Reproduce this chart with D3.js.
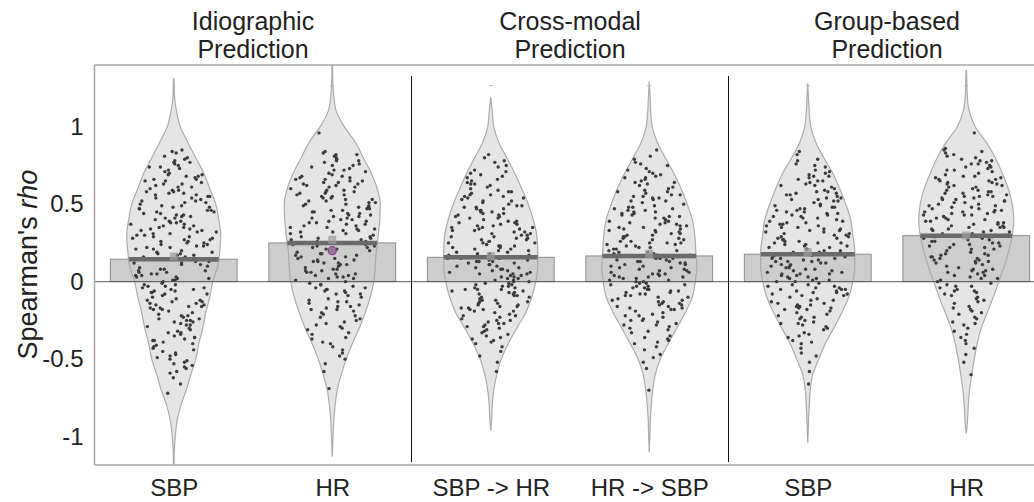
<!DOCTYPE html>
<html>
<head>
<meta charset="utf-8">
<script src="https://cdn.jsdelivr.net/npm/d3@7"></script>
<style>
  html, body { margin: 0; padding: 0; background: #fff; }
  svg { display: block; font-family: "Liberation Sans", Arial, sans-serif; }
</style>
</head>
<body>
<script>
// ---- categories and panels ----
const categories = ["SBP", "HR", "SBP -> HR", "HR -> SBP", "SBP", "HR"];
const panelTitles = [["Idiographic", "Prediction"], ["Cross-modal", "Prediction"], ["Group-based", "Prediction"]];
const yTicks = [-1, -0.5, 0, 0.5, 1];

// ---- summary values per category ----
const meanRho   = [0.145, 0.25, 0.157, 0.166, 0.177, 0.297];
const medianRho = [0.163, 0.27, 0.165, 0.18, 0.19, 0.298];
const highlightRho = { index: 1, value: 0.20 };
const capRho = [null, 1.265, 1.265, 1.265, 1.265, 1.265];

// ---- violin outlines: [rho, relative density] ----
const violinIdioSBP = [[1.314,0],[1.3,0.3],[1.2,0.7],[1.1,2.7],[1.0,6.5],[0.9,14],[0.8,22],[0.7,30],[0.6,36],[0.5,42],[0.4,45],[0.3,47],[0.2,46],[0.1,44],[0,39],[-0.1,36],[-0.2,32],[-0.3,29],[-0.4,25],[-0.5,22],[-0.6,17],[-0.7,12.5],[-0.8,7],[-0.9,3.3],[-1.0,1.5],[-1.1,0.5],[-1.183,0.3]];
const violinIdioHR  = [[1.398,0.3],[1.3,0.5],[1.2,1.5],[1.1,4],[1.0,12],[0.9,23],[0.8,31],[0.7,39],[0.6,45],[0.5,48],[0.4,47.5],[0.3,46],[0.2,44],[0.1,43],[0,41.5],[-0.1,38],[-0.2,33],[-0.3,27],[-0.4,20],[-0.5,14],[-0.6,9],[-0.7,5],[-0.8,2.8],[-0.9,1.5],[-1.0,0.8],[-1.13,0]];
const violinCrossSBPHR = [[1.19,0],[1.1,1.5],[1.0,3],[0.9,8],[0.8,16],[0.7,24],[0.6,31],[0.5,37.5],[0.4,42.5],[0.3,46],[0.2,47],[0.1,47],[0,45],[-0.1,41],[-0.2,35],[-0.3,26],[-0.4,17.5],[-0.5,10.5],[-0.6,6],[-0.7,3],[-0.8,1.5],[-0.9,0.8],[-0.96,0]];
const violinCrossHRSBP = [[1.29,0],[1.2,0.8],[1.1,1.5],[1.0,3],[0.9,8],[0.8,16],[0.7,24.5],[0.6,32],[0.5,38],[0.4,43],[0.3,45.5],[0.2,46.5],[0.1,47.5],[0,46],[-0.1,43],[-0.2,36],[-0.3,27.5],[-0.4,19],[-0.5,11],[-0.6,6],[-0.7,3.5],[-0.8,2],[-0.9,1],[-1.0,0.6],[-1.1,0]];
const violinGroupSBP = [[1.28,0],[1.2,0.6],[1.1,1.5],[1.0,3],[0.9,8],[0.8,16],[0.7,25],[0.6,32],[0.5,38],[0.4,43],[0.3,45],[0.2,47],[0.1,47],[0,45],[-0.1,41],[-0.2,34],[-0.3,26],[-0.4,17.5],[-0.5,11],[-0.6,5],[-0.7,2.5],[-0.8,1.5],[-0.9,0.8],[-1.04,0]];
const violinGroupHR = [[1.36,0.3],[1.2,1],[1.1,3],[1.0,9],[0.9,20],[0.8,29],[0.7,36],[0.6,42],[0.5,46],[0.4,47.5],[0.3,46],[0.2,42.5],[0.1,38],[0,32.5],[-0.1,27],[-0.2,21],[-0.3,15],[-0.4,11],[-0.5,8],[-0.6,5.5],[-0.7,3.3],[-0.8,2],[-0.9,1.2],[-0.98,0]];

// ---- individual Spearman's rho values ----
const rhoIdioSBP = [.85,.83,.84,.81,.80,
.79,.77,.78,.76,.74,.75,.73,.72,.77,.71,.70,.74,
.69,.68,.66,.67,.65,.63,.64,.62,.61,.60,.68,.66,.63,.61,.65,.69,
.59,.58,.57,.55,.56,.54,.52,.53,.51,.50,.58,.56,.54,.52,.57,.55,.51,.59,
.49,.48,.47,.46,.45,.44,.43,.42,.41,.40,.48,.46,.44,.42,.47,.45,.43,.41,.49,
.39,.38,.37,.36,.35,.34,.33,.32,.31,.30,.38,.36,.34,.32,.37,.35,.33,.31,.39,.30,
.29,.28,.27,.26,.25,.24,.23,.22,.21,.20,.28,.26,.24,.22,.27,.25,.23,.21,.29,
.19,.18,.17,.16,.15,.14,.13,.12,.11,.10,.18,.16,.14,.12,.17,.15,.13,.11,.19,.15,
.09,.08,.07,.06,.05,.04,.03,.02,.01,0,.08,.06,.04,.02,.07,.05,.03,.01,
-.01,-.02,-.03,-.04,-.05,-.06,-.07,-.08,-.09,-.10,-.02,-.04,-.06,-.08,-.03,-.05,-.07,
-.11,-.12,-.13,-.14,-.15,-.16,-.17,-.18,-.19,-.20,-.12,-.14,-.16,-.18,-.13,-.15,-.17,
-.21,-.22,-.23,-.24,-.25,-.26,-.27,-.28,-.29,-.30,-.22,-.24,-.26,-.28,-.25,
-.31,-.32,-.33,-.34,-.35,-.36,-.37,-.38,-.39,-.40,-.33,-.36,-.38,
-.41,-.42,-.43,-.45,-.46,-.47,-.48,-.50,-.44,-.49,
-.51,-.52,-.54,-.55,-.56,-.58,-.59,-.53,
-.62,-.66,-.72];

const rhoIdioHR = [.96,
.84,.83,.82,.81,.80,.82,
.79,.78,.77,.76,.75,.74,.73,.72,.71,.70,.78,.75,.72,
.69,.68,.67,.66,.65,.64,.63,.62,.61,.60,.68,.66,.64,.62,.67,.65,.63,.61,
.59,.58,.57,.56,.55,.54,.53,.52,.51,.50,.58,.56,.54,.52,.57,.55,.53,.51,.59,.50,
.49,.48,.47,.46,.45,.44,.43,.42,.41,.40,.48,.46,.44,.42,.47,.45,.43,.41,.49,.40,
.39,.38,.37,.36,.35,.34,.33,.32,.31,.30,.38,.36,.34,.32,.37,.35,.33,.31,.39,
.29,.28,.27,.26,.25,.24,.23,.22,.21,.20,.28,.26,.24,.22,.27,.25,.23,.21,.29,
.19,.18,.17,.16,.15,.14,.13,.12,.11,.10,.18,.16,.14,.12,.17,.15,.13,.11,
.09,.08,.07,.06,.05,.04,.03,.02,.01,0,.08,.06,.04,.02,.07,.05,.03,
-.01,-.02,-.03,-.04,-.05,-.06,-.07,-.08,-.09,-.10,-.02,-.04,-.06,-.08,-.05,
-.11,-.12,-.13,-.14,-.15,-.16,-.17,-.18,-.19,-.20,-.13,-.16,-.18,
-.21,-.22,-.24,-.25,-.26,-.27,-.28,-.29,-.23,-.30,
-.31,-.33,-.34,-.36,-.37,-.39,-.40,
-.42,-.44,-.46,-.48,-.50,
-.53,-.58,-.69];

const rhoCrossSBPHR = [.82,.80,
.78,.77,.75,.74,.72,.71,.70,
.69,.68,.66,.65,.64,.63,.62,.61,.60,.67,.63,
.59,.58,.57,.56,.55,.54,.53,.52,.51,.50,.58,.56,.54,.52,.55,
.49,.48,.47,.46,.45,.44,.43,.42,.41,.40,.48,.46,.44,.42,.47,.45,.43,.41,.49,
.39,.38,.37,.36,.35,.34,.33,.32,.31,.30,.38,.36,.34,.32,.37,.35,.33,.31,.39,.30,.35,
.29,.28,.27,.26,.25,.24,.23,.22,.21,.20,.28,.26,.24,.22,.27,.25,.23,.21,.29,.20,.25,.23,
.19,.18,.17,.16,.15,.14,.13,.12,.11,.10,.18,.16,.14,.12,.17,.15,.13,.11,.19,.10,.15,.13,
.09,.08,.07,.06,.05,.04,.03,.02,.01,0,.08,.06,.04,.02,.07,.05,.03,.01,.09,0,.05,
-.01,-.02,-.03,-.04,-.05,-.06,-.07,-.08,-.09,-.10,-.02,-.04,-.06,-.08,-.03,-.05,-.07,-.09,-.01,-.10,-.05,
-.11,-.12,-.13,-.14,-.15,-.16,-.17,-.18,-.19,-.20,-.12,-.14,-.16,-.18,-.13,-.15,-.17,-.19,
-.21,-.22,-.23,-.24,-.25,-.26,-.27,-.28,-.29,-.30,-.22,-.25,-.27,-.29,
-.31,-.32,-.33,-.34,-.35,-.36,-.37,-.38,-.39,-.40,
-.42,-.45,-.48,-.52,-.58];

const rhoCrossHRSBP = [.85,.81,
.79,.77,.76,.75,.73,.72,.71,.70,
.69,.68,.67,.66,.65,.64,.63,.62,.61,.60,.67,.64,
.59,.58,.57,.56,.55,.54,.53,.52,.51,.50,.58,.56,.54,.52,.55,
.49,.48,.47,.46,.45,.44,.43,.42,.41,.40,.48,.46,.44,.42,.47,.45,.43,.41,
.39,.38,.37,.36,.35,.34,.33,.32,.31,.30,.38,.36,.34,.32,.37,.35,.33,.31,.39,.30,
.29,.28,.27,.26,.25,.24,.23,.22,.21,.20,.28,.26,.24,.22,.27,.25,.23,.21,.29,.20,.25,
.19,.18,.17,.16,.15,.14,.13,.12,.11,.10,.18,.16,.14,.12,.17,.15,.13,.11,.19,.10,.15,.13,
.09,.08,.07,.06,.05,.04,.03,.02,.01,0,.08,.06,.04,.02,.07,.05,.03,.01,.09,0,.05,.03,
-.01,-.02,-.03,-.04,-.05,-.06,-.07,-.08,-.09,-.10,-.02,-.04,-.06,-.08,-.03,-.05,-.07,-.09,-.01,-.10,
-.11,-.12,-.13,-.14,-.15,-.16,-.17,-.18,-.19,-.20,-.12,-.14,-.16,-.18,-.13,-.15,-.17,
-.21,-.22,-.23,-.24,-.25,-.26,-.27,-.28,-.29,-.30,-.22,-.25,-.28,
-.31,-.32,-.33,-.35,-.36,-.37,-.38,-.39,-.40,
-.42,-.44,-.47,-.49,-.52,
-.56,-.70];

const rhoGroupSBP = [.84,.82,
.79,.78,.76,.75,.74,.72,.71,.70,
.69,.68,.67,.66,.65,.64,.63,.62,.61,.60,.68,.65,.62,
.59,.58,.57,.56,.55,.54,.53,.52,.51,.50,.58,.56,.54,.52,.57,.53,
.49,.48,.47,.46,.45,.44,.43,.42,.41,.40,.48,.46,.44,.42,.47,.45,.43,.41,.49,
.39,.38,.37,.36,.35,.34,.33,.32,.31,.30,.38,.36,.34,.32,.37,.35,.33,.31,.39,.30,
.29,.28,.27,.26,.25,.24,.23,.22,.21,.20,.28,.26,.24,.22,.27,.25,.23,.21,.29,.20,.25,
.19,.18,.17,.16,.15,.14,.13,.12,.11,.10,.18,.16,.14,.12,.17,.15,.13,.11,.19,.10,.15,.13,
.09,.08,.07,.06,.05,.04,.03,.02,.01,0,.08,.06,.04,.02,.07,.05,.03,.01,.09,0,.05,
-.01,-.02,-.03,-.04,-.05,-.06,-.07,-.08,-.09,-.10,-.02,-.04,-.06,-.08,-.03,-.05,-.07,-.09,-.05,
-.11,-.12,-.13,-.14,-.15,-.16,-.17,-.18,-.19,-.20,-.12,-.14,-.16,-.18,-.15,-.17,
-.21,-.22,-.23,-.24,-.25,-.26,-.27,-.28,-.29,-.30,-.23,-.27,
-.31,-.33,-.34,-.35,-.36,-.38,-.39,-.40,
-.43,-.46,-.48,-.52,
-.58,-.66];

const rhoGroupHR = [.96,
.86,.85,.84,.83,.82,.81,.80,
.79,.78,.77,.76,.75,.74,.73,.72,.71,.70,.78,.76,.74,.72,
.69,.68,.67,.66,.65,.64,.63,.62,.61,.60,.68,.66,.64,.62,.67,.65,.63,.61,
.59,.58,.57,.56,.55,.54,.53,.52,.51,.50,.58,.56,.54,.52,.57,.55,.53,.51,.59,.50,.55,
.49,.48,.47,.46,.45,.44,.43,.42,.41,.40,.48,.46,.44,.42,.47,.45,.43,.41,.49,.40,.45,.43,
.39,.38,.37,.36,.35,.34,.33,.32,.31,.30,.38,.36,.34,.32,.37,.35,.33,.31,.39,.30,.35,
.29,.28,.27,.26,.25,.24,.23,.22,.21,.20,.28,.26,.24,.22,.27,.25,.23,.21,.29,
.19,.18,.17,.16,.15,.14,.13,.12,.11,.10,.18,.16,.14,.12,.17,.15,.13,
.09,.08,.07,.06,.05,.04,.03,.02,.01,0,.08,.06,.04,.02,.07,
-.01,-.02,-.03,-.04,-.05,-.06,-.07,-.08,-.09,-.10,-.03,-.06,
-.11,-.12,-.13,-.14,-.16,-.17,-.18,-.19,-.20,
-.21,-.23,-.24,-.26,-.27,-.28,-.30,
-.32,-.34,-.36,-.38,-.40,
-.43,-.47,-.52,
-.60];

const violins = [violinIdioSBP, violinIdioHR, violinCrossSBPHR, violinCrossHRSBP, violinGroupSBP, violinGroupHR];
const points  = [rhoIdioSBP, rhoIdioHR, rhoCrossSBPHR, rhoCrossHRSBP, rhoGroupSBP, rhoGroupHR];

// ---- layout ----
const W = 1034, H = 502;
const plot = { left: 94.5, top: 65, bottom: 465 };
const FONT = "'Liberation Sans', Arial, sans-serif";

const svg = d3.select("body").append("svg").attr("width", W).attr("height", H);

const x = d3.scaleLinear().domain([0.5, 6.5]).range([plot.left, 1045.5]);
const y = d3.scaleLinear().domain([-1.183, 1.398]).range([plot.bottom, plot.top]);
// relative density -> half width in category units
const halfWidth = d3.scaleLinear().domain([0, 48]).range([0, 0.303]);
const barWidth = 0.8;

svg.append("defs").append("clipPath").attr("id", "plotClip")
  .append("rect").attr("x", plot.left).attr("y", plot.top)
  .attr("width", W - plot.left).attr("height", plot.bottom - plot.top);

const g = svg.append("g").attr("clip-path", "url(#plotClip)");

function violinArea(c) {
  return d3.area()
    .y(d => y(d[0]))
    .x0(d => x(c - halfWidth(d[1])))
    .x1(d => x(c + halfWidth(d[1])))
    .curve(d3.curveMonotoneY);
}

// violin fills
violins.forEach((v, i) => {
  g.append("path").datum(v).attr("d", violinArea(i + 1))
    .attr("fill", "#e5e5e5").attr("stroke", "none");
});

// mean bars
g.selectAll("rect.bar").data(meanRho).join("rect")
  .attr("class", "bar")
  .attr("x", (d, i) => x(i + 1 - barWidth / 2))
  .attr("width", x(1 + barWidth) - x(1))
  .attr("y", d => y(Math.max(0, d)))
  .attr("height", d => Math.abs(y(d) - y(0)))
  .attr("fill", "#cdcdcd").attr("stroke", "#8c8c8c").attr("stroke-width", 1);

// violin outlines
violins.forEach((v, i) => {
  g.append("path").datum(v).attr("d", violinArea(i + 1))
    .attr("fill", "none").attr("stroke", "#acacac").attr("stroke-width", 1.2);
});

// small caps above the violin tails
capRho.forEach((v, i) => {
  if (v == null) return;
  g.append("line")
    .attr("x1", x(i + 1) - 2).attr("x2", x(i + 1) + 2)
    .attr("y1", y(v)).attr("y2", y(v))
    .attr("stroke", "#b5b5b5").attr("stroke-width", 1);
});

// zero reference line
g.append("line").attr("x1", plot.left).attr("x2", W)
  .attr("y1", y(0)).attr("y2", y(0))
  .attr("stroke", "#5a5a5a").attr("stroke-width", 1);

// deterministic horizontal jitter inside the violin outline
function jitter(i, k) {
  const s = Math.sin((i + 1) * 12.9898 + (k + 1) * 78.233) * 43758.5453;
  return (s - Math.floor(s)) * 2 - 1;
}

points.forEach((vals, k) => {
  const v = violins[k];
  const dens = d3.scaleLinear().domain(v.map(d => d[0])).range(v.map(d => d[1])).clamp(true);
  g.append("g").selectAll("circle").data(vals).join("circle")
    .attr("cx", (d, i) => x(k + 1 + jitter(i, k) * halfWidth(dens(d)) * 0.95))
    .attr("cy", d => y(d))
    .attr("r", 1.7)
    .attr("fill", "#3b3b3b");
});

// mean lines spanning the violin width, and median markers
meanRho.forEach((m, k) => {
  const v = violins[k];
  const dens = d3.scaleLinear().domain(v.map(d => d[0])).range(v.map(d => d[1])).clamp(true);
  const hw = halfWidth(dens(m));
  g.append("line")
    .attr("x1", x(k + 1 - hw)).attr("x2", x(k + 1 + hw))
    .attr("y1", y(m)).attr("y2", y(m))
    .attr("stroke", "#6a6a6a").attr("stroke-width", 4.5);
  g.append("rect")
    .attr("x", x(k + 1) - 4).attr("y", y(medianRho[k]) - 4)
    .attr("width", 8).attr("height", 8)
    .attr("fill", "#9c9c9c").attr("fill-opacity", 0.75);
});

g.append("circle")
  .attr("cx", x(highlightRho.index + 1)).attr("cy", y(highlightRho.value))
  .attr("r", 4).attr("fill", "#9a7a9a").attr("stroke", "#8a3f8a").attr("stroke-width", 1.2);

// panel dividers
[2.5, 4.5].forEach(p => {
  svg.append("line").attr("x1", x(p)).attr("x2", x(p))
    .attr("y1", 76).attr("y2", 462)
    .attr("stroke", "#111").attr("stroke-width", 1);
});

// frame
const frame = svg.append("g").attr("stroke", "#a8a8a8").attr("stroke-width", 1.5).attr("fill", "none");
frame.append("line").attr("x1", plot.left).attr("x2", W).attr("y1", plot.top).attr("y2", plot.top);
frame.append("line").attr("x1", plot.left).attr("x2", W).attr("y1", plot.bottom).attr("y2", plot.bottom);
frame.append("line").attr("x1", plot.left).attr("x2", plot.left).attr("y1", plot.top).attr("y2", plot.bottom);

// axes
const yAxis = svg.append("g").attr("transform", `translate(${plot.left},0)`)
  .call(d3.axisLeft(y).tickValues(yTicks).tickSize(0).tickPadding(11).tickFormat(d => String(d)));
yAxis.select(".domain").remove();
yAxis.selectAll("text").attr("font-size", 24).attr("fill", "#222").attr("font-family", FONT);

const xAxis = svg.append("g").attr("transform", `translate(0,${plot.bottom})`)
  .call(d3.axisBottom(x).tickValues(d3.range(1, categories.length + 1)).tickSize(0).tickPadding(14)
    .tickFormat(d => categories[d - 1]));
xAxis.select(".domain").remove();
xAxis.selectAll("text").attr("font-size", 24).attr("fill", "#222").attr("font-family", FONT);

// y label
const yl = svg.append("text")
  .attr("transform", `translate(37,${y(0.11)}) rotate(-90)`)
  .attr("text-anchor", "middle").attr("font-size", 27).attr("fill", "#222");
yl.append("tspan").text("Spearman's ");
yl.append("tspan").attr("font-style", "italic").text("rho");

// panel titles
panelTitles.forEach((lines, p) => {
  const t = svg.append("text").attr("x", x(2 * p + 1.5)).attr("text-anchor", "middle")
    .attr("font-size", 25).attr("fill", "#222");
  lines.forEach((ln, j) => t.append("tspan").attr("x", x(2 * p + 1.5)).attr("y", 30 + j * 28).text(ln));
});
</script>
</body>
</html>
